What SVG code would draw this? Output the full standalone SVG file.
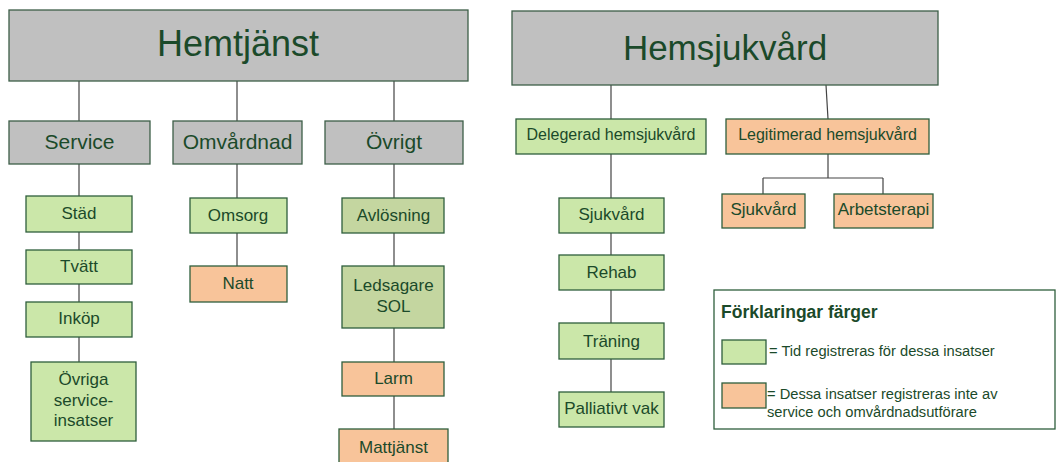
<svg xmlns="http://www.w3.org/2000/svg" width="1056" height="462" viewBox="0 0 1056 462">
<style>
.t{font-family:"Liberation Sans",Arial,sans-serif;fill:#1b4a2a;text-anchor:middle}
.g{fill:#cbe7a9;stroke:#2f5f3c;stroke-width:1.3}
.dg{fill:#c4d6a0;stroke:#2f5f3c;stroke-width:1.3}
.o{fill:#f8c49a;stroke:#2f5f3c;stroke-width:1.3}
.h{fill:#c0c0c0;stroke:#3d5e48;stroke-width:1.3}
.c{stroke:#444;stroke-width:1.2;fill:none}
</style>
<rect width="1056" height="462" fill="#fff"/>
<g id="connectors">
<path class="c" d="M79 81V196M79 232V250M79 284V302M79 337V362"/>
<path class="c" d="M237 81V198M237 233V266"/>
<path class="c" d="M394 81V198M394 233V266M394 328V362M394 396V429"/>
<path class="c" d="M611 85V392"/>
<path class="c" d="M826 85L828 119M828 154V178M763 178H883M763 178V194M883 178V194"/>
</g>
<g id="hemtjanst"><rect class="h" x="9" y="10" width="459" height="71"/><text class="t" x="238" y="56" font-size="36">Hemtjänst</text></g>
<g id="service"><rect class="h" x="9" y="121" width="141" height="43"/><text class="t" x="79.5" y="149" font-size="21">Service</text></g>
<g id="omvardnad"><rect class="h" x="173" y="121" width="129" height="43"/><text class="t" x="237.5" y="149" font-size="21">Omvårdnad</text></g>
<g id="ovrigt"><rect class="h" x="325" y="121" width="138" height="43"/><text class="t" x="394" y="149" font-size="21">Övrigt</text></g>
<g id="stad"><rect class="g" x="26" y="196" width="106" height="36"/><text class="t" x="79" y="219" font-size="17">Städ</text></g>
<g id="tvatt"><rect class="g" x="26" y="250" width="106" height="34"/><text class="t" x="79" y="272" font-size="17">Tvätt</text></g>
<g id="inkop"><rect class="g" x="26" y="302" width="106" height="35"/><text class="t" x="79" y="324" font-size="17">Inköp</text></g>
<g id="ovriga"><rect class="g" x="31" y="362" width="105" height="79"/><text class="t" x="83.5" y="385" font-size="17">Övriga</text><text class="t" x="83.5" y="406" font-size="17">service-</text><text class="t" x="83.5" y="426" font-size="17">insatser</text></g>
<g id="omsorg"><rect class="g" x="190" y="198" width="97" height="35"/><text class="t" x="238" y="221" font-size="17">Omsorg</text></g>
<g id="natt"><rect class="o" x="190" y="266" width="97" height="36"/><text class="t" x="238" y="289" font-size="17">Natt</text></g>
<g id="avlosning"><rect class="dg" x="342" y="198" width="102" height="35"/><text class="t" x="393.5" y="221" font-size="17">Avlösning</text></g>
<g id="ledsagare"><rect class="dg" x="342" y="266" width="102" height="62"/><text class="t" x="393.5" y="291" font-size="17">Ledsagare</text><text class="t" x="393.5" y="312" font-size="17">SOL</text></g>
<g id="larm"><rect class="o" x="342" y="362" width="102" height="34"/><text class="t" x="393.5" y="384" font-size="17">Larm</text></g>
<g id="mattjanst"><rect class="o" x="339" y="429" width="109" height="40"/><text class="t" x="393.5" y="453" font-size="17">Mattjänst</text></g>
<g id="hemsjukvard"><rect class="h" x="512" y="11" width="426" height="74"/><text class="t" x="725" y="60" font-size="35">Hemsjukvård</text></g>
<g id="delegerad"><rect class="g" x="516" y="119" width="190" height="35"/><text class="t" x="611" y="140" font-size="16">Delegerad hemsjukvård</text></g>
<g id="legitimerad"><rect class="o" x="726" y="119" width="203" height="35"/><text class="t" x="827.5" y="140" font-size="16">Legitimerad hemsjukvård</text></g>
<g id="sjukvard-l"><rect class="o" x="722" y="194" width="83" height="34"/><text class="t" x="763.5" y="215" font-size="17">Sjukvård</text></g>
<g id="arbetsterapi"><rect class="o" x="834" y="194" width="99" height="34"/><text class="t" x="883.5" y="215" font-size="17">Arbetsterapi</text></g>
<g id="sjukvard-d"><rect class="g" x="559" y="198" width="105" height="35"/><text class="t" x="611.5" y="220" font-size="17">Sjukvård</text></g>
<g id="rehab"><rect class="g" x="559" y="255" width="105" height="35"/><text class="t" x="611.5" y="278" font-size="17">Rehab</text></g>
<g id="traning"><rect class="g" x="559" y="323" width="105" height="36"/><text class="t" x="611.5" y="347" font-size="17">Träning</text></g>
<g id="palliativt"><rect class="g" x="559" y="392" width="105" height="35"/><text class="t" x="611.5" y="414" font-size="17">Palliativt vak</text></g>
<g id="legend">
<rect x="714" y="290" width="341" height="139" fill="#fff" stroke="#2f5f3c" stroke-width="1.3"/>
<text class="t" x="721" y="318" font-size="17.5" font-weight="bold" style="text-anchor:start">Förklaringar färger</text>
<rect class="g" x="722" y="340" width="44" height="24"/>
<text class="t" x="769" y="356" font-size="14.7" style="text-anchor:start">= Tid registreras för dessa insatser</text>
<rect class="o" x="722" y="383" width="44" height="25"/>
<text class="t" x="767" y="399" font-size="14.7" style="text-anchor:start">= Dessa insatser registreras inte av</text>
<text class="t" x="767" y="417" font-size="14.7" style="text-anchor:start">service och omvårdnadsutförare</text>
</g>
</svg>
